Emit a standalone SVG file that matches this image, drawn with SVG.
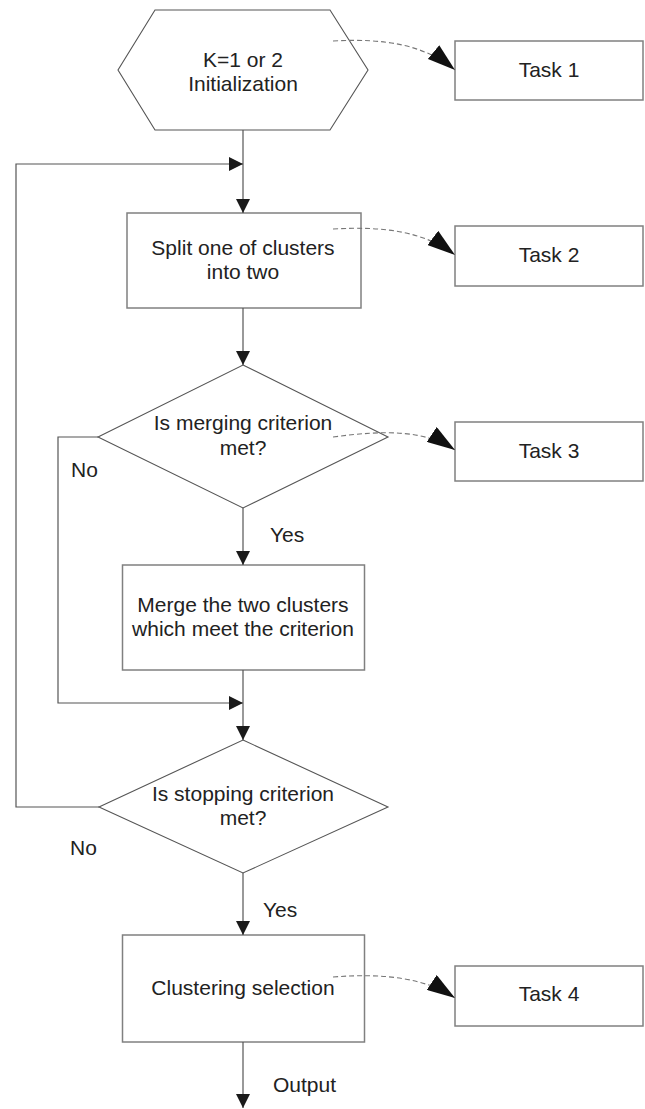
<svg xmlns="http://www.w3.org/2000/svg" width="645" height="1109" viewBox="0 0 645 1109">
  <style>
    .shape { fill: #ffffff; stroke: #555555; stroke-width: 1.1; }
    .box { fill: #ffffff; stroke: #808080; stroke-width: 1.5; }
    .line { fill: none; stroke: #555555; stroke-width: 1.2; }
    .dash { fill: none; stroke: #777777; stroke-width: 1.1; stroke-dasharray: 5,3; }
    text { font-family: "Liberation Sans", Arial, sans-serif; font-size: 21px; fill: #222222; }
    .c { text-anchor: middle; }
  </style>
  <defs>
    <marker id="arr" markerUnits="userSpaceOnUse" markerWidth="14" markerHeight="14" refX="14" refY="7" orient="auto">
      <path d="M0,0 L14,7 L0,14 z" fill="#1a1a1a"/>
    </marker>
    <marker id="big" markerUnits="userSpaceOnUse" markerWidth="28" markerHeight="18" refX="28" refY="9" orient="auto">
      <path d="M0,0 L28,9 L0,18 z" fill="#111111"/>
    </marker>
  </defs>

  <rect x="0" y="0" width="645" height="1109" fill="#ffffff"/>

  <g id="init">
    <polygon class="shape" points="155,10 330,10 368,70 330,130 155,130 118,70"/>
    <text class="c" x="243" y="67">K=1 or 2</text>
    <text class="c" x="243" y="91">Initialization</text>
  </g>

  <g id="split">
    <rect class="box" x="127" y="213" width="234" height="95"/>
    <text class="c" x="243" y="255">Split one of clusters</text>
    <text class="c" x="243" y="279">into two</text>
  </g>

  <g id="merge-decision">
    <polygon class="shape" points="243,365 388,437 243,508 98,437"/>
    <text class="c" x="243" y="430">Is merging criterion</text>
    <text class="c" x="243" y="455">met?</text>
  </g>

  <g id="merge">
    <rect class="box" x="122.5" y="565" width="242" height="105"/>
    <text class="c" x="243" y="612">Merge the two clusters</text>
    <text class="c" x="243" y="636">which meet the criterion</text>
  </g>

  <g id="stop-decision">
    <polygon class="shape" points="243,740 388,807 243,873 99,807"/>
    <text class="c" x="243" y="801">Is stopping criterion</text>
    <text class="c" x="243" y="825">met?</text>
  </g>

  <g id="selection">
    <rect class="box" x="122.5" y="935" width="242" height="107"/>
    <text class="c" x="243" y="995">Clustering selection</text>
  </g>

  <g id="task1">
    <rect class="box" x="455" y="41" width="188" height="59"/>
    <text class="c" x="549" y="77">Task 1</text>
  </g>
  <g id="task2">
    <rect class="box" x="455" y="226" width="188" height="60"/>
    <text class="c" x="549" y="262">Task 2</text>
  </g>
  <g id="task3">
    <rect class="box" x="455" y="422" width="188" height="59"/>
    <text class="c" x="549" y="458">Task 3</text>
  </g>
  <g id="task4">
    <rect class="box" x="455" y="966" width="188" height="60"/>
    <text class="c" x="549" y="1001">Task 4</text>
  </g>

  <g id="connectors">
    <line class="line" x1="243" y1="130" x2="243" y2="213" marker-end="url(#arr)"/>
    <polyline class="line" points="99,807 16,807 16,164 243,164" marker-end="url(#arr)"/>
    <line class="line" x1="243" y1="308" x2="243" y2="365" marker-end="url(#arr)"/>
    <line class="line" x1="243" y1="508" x2="243" y2="565" marker-end="url(#arr)"/>
    <polyline class="line" points="98,437 58,437 58,703 243,703" marker-end="url(#arr)"/>
    <line class="line" x1="243" y1="670" x2="243" y2="740" marker-end="url(#arr)"/>
    <line class="line" x1="243" y1="873" x2="243" y2="935" marker-end="url(#arr)"/>
    <line class="line" x1="243" y1="1042" x2="243" y2="1108" marker-end="url(#arr)"/>
    <path class="dash" d="M333,41 C385,38 425,45 455,70" marker-end="url(#big)"/>
    <path class="dash" d="M333,229 C385,226 425,232 455,255" marker-end="url(#big)"/>
    <path class="dash" d="M333,437 C385,430 425,430 455,450" marker-end="url(#big)"/>
    <path class="dash" d="M333,977 C385,973 425,978 455,998" marker-end="url(#big)"/>
    <text x="71" y="477">No</text>
    <text x="270" y="542">Yes</text>
    <text x="70" y="855">No</text>
    <text x="263" y="917">Yes</text>
    <text x="273" y="1092">Output</text>
  </g>
</svg>
